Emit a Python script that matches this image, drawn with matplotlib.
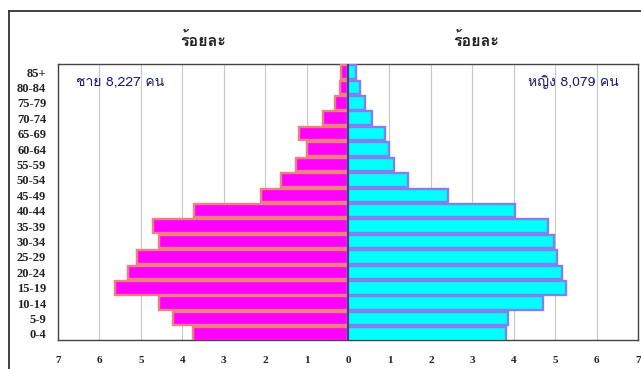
import matplotlib
matplotlib.use("Agg")
import matplotlib.pyplot as plt
from matplotlib import font_manager
from matplotlib.ft2font import FT2Font
import numpy as np

age_groups = ["0-4", "5-9", "10-14", "15-19", "20-24", "25-29", "30-34", "35-39",
              "40-44", "45-49", "50-54", "55-59", "60-64", "65-69", "70-74",
              "75-79", "80-84", "85+"]
male_pct = [3.75, 4.22, 4.56, 5.62, 5.32, 5.10, 4.56, 4.70, 3.72, 2.10,
            1.62, 1.26, 0.98, 1.18, 0.60, 0.32, 0.20, 0.18]
female_pct = [3.82, 3.86, 4.71, 5.25, 5.17, 5.05, 4.97, 4.83, 4.04, 2.42,
              1.44, 1.12, 1.00, 0.90, 0.58, 0.40, 0.30, 0.20]
x_ticks = [-7, -6, -5, -4, -3, -2, -1, 0, 1, 2, 3, 4, 5, 6, 7]
x_tick_labels = ["7", "6", "5", "4", "3", "2", "1", "0", "1", "2", "3", "4", "5", "6", "7"]
axis_title = "ร้อยละ"
male_label = "ชาย 8,227 คน"
female_label = "หญิง 8,079 คน"


def find_thai_font():
    """Pick an installed font that covers Thai script."""
    sample = [ord(c) for c in "ร้อยละชหญิงคน"]
    preferred = []
    others = []
    for path in font_manager.findSystemFonts():
        try:
            ft = FT2Font(path)
            cmap = ft.get_charmap()
        except Exception:
            continue
        if all(c in cmap for c in sample):
            name = font_manager.FontProperties(fname=path).get_name()
            if "Serif" in name or "Loma" in name:
                preferred.append(name)
            else:
                others.append(name)
    names = preferred + others
    return names[0] if names else "DejaVu Sans"


thai_font = find_thai_font()
serif = "Liberation Serif"

W, H = 641, 369
fig = plt.figure(figsize=(W / 100, H / 100), dpi=100)

# outer frame
fig.add_artist(plt.Line2D([9 / W, 9 / W], [0, 1 - 11 / H], color="#222222", lw=1.2))
fig.add_artist(plt.Line2D([9 / W, 1], [1 - 11 / H, 1 - 11 / H], color="#222222", lw=1.2))

ax_left, ax_right, ax_top, ax_bottom = 58, 638, 64, 340
ax = fig.add_axes([ax_left / W, 1 - ax_bottom / H,
                   (ax_right - ax_left) / W, (ax_bottom - ax_top) / H])

y = np.arange(len(age_groups))
ax.barh(y, -np.array(male_pct), height=0.88, color="#ff00ff",
        edgecolor="#f08080", linewidth=1.7, zorder=3)
ax.barh(y, female_pct, height=0.88, color="#00ffff",
        edgecolor="#8080f0", linewidth=1.7, zorder=3)
ax.axvline(0, color="#3a3a70", lw=1.3, zorder=4)

ax.set_xlim(-7, 7)
ax.set_ylim(-0.39, 17.52)
ax.set_xticks(x_ticks)
ax.set_xticklabels(x_tick_labels)
ax.set_yticks(y)
ax.set_yticklabels(age_groups)
ax.tick_params(length=0)
ax.tick_params(axis="x", pad=11.5)
ax.tick_params(axis="y", pad=8.5)
for lab in ax.get_xticklabels():
    lab.set_fontfamily(serif)
    lab.set_fontweight("bold")
    lab.set_fontsize(8)
    lab.set_color("#222222")
for lab in ax.get_yticklabels():
    lab.set_fontfamily(serif)
    lab.set_fontweight("bold")
    lab.set_fontsize(9)
    lab.set_color("#222222")

ax.grid(axis="x", color="#c8c8c8", lw=0.8, zorder=0)
ax.set_axisbelow(True)
for s in ax.spines.values():
    s.set_color("#444444")
    s.set_linewidth(1.0)

fig.text(203 / W, 1 - 41 / H, axis_title, family=thai_font, fontsize=11.5,
         fontweight="bold", color="#222222", ha="center", va="center")
fig.text(476 / W, 1 - 41 / H, axis_title, family=thai_font, fontsize=11.5,
         fontweight="bold", color="#222222", ha="center", va="center")
fig.text(120 / W, 1 - 82 / H, male_label, family=thai_font, fontsize=10,
         color="#1a1a70", ha="center", va="center")
fig.text(573 / W, 1 - 82 / H, female_label, family=thai_font, fontsize=10,
         color="#1a1a70", ha="center", va="center")

fig.savefig("out.png", dpi=100)
